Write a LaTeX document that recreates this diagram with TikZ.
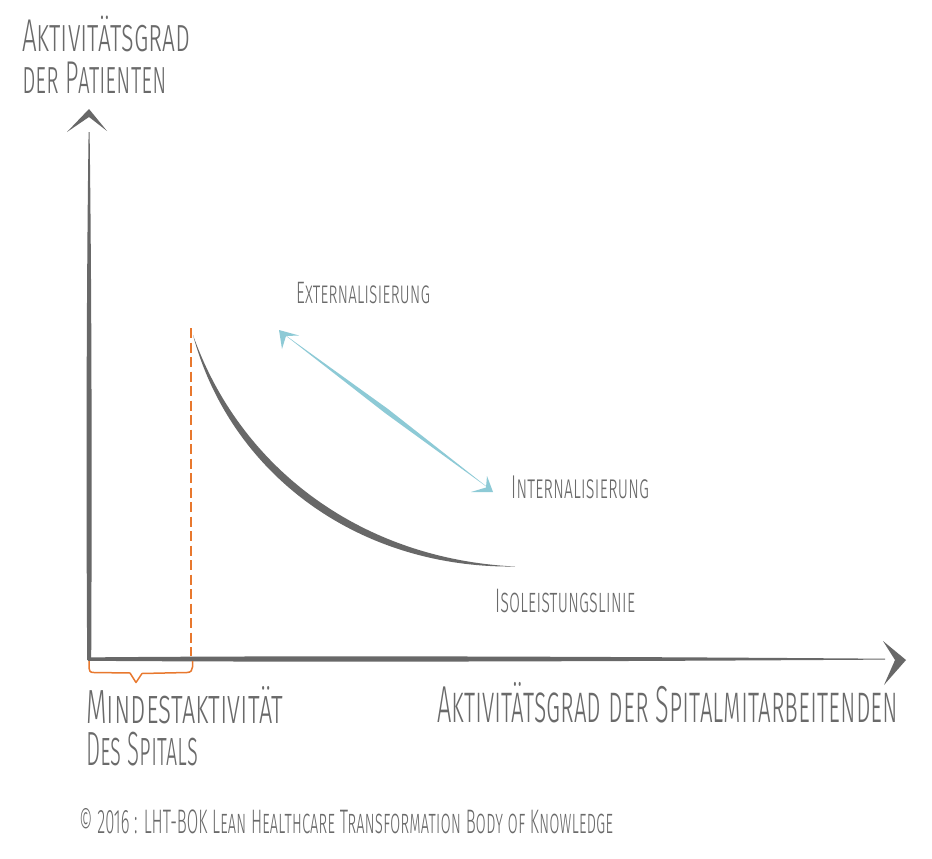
\documentclass[tikz,border=0pt]{standalone}
\usepackage{fontspec}
\usepackage{graphicx}
\newfontfamily\handfont{Fira Sans}[UprightFont=* Light, Letters=SmallCaps]
\definecolor{txtgray}{HTML}{6A6A6A}
\definecolor{axgray}{HTML}{686868}
\definecolor{orangeC}{HTML}{E8782E}
\definecolor{blueC}{HTML}{8DCAD6}
\newcommand{\fitw}[3]{\resizebox{#1pt}{\height}{\fontsize{#2}{#2}\selectfont #3}}
\tikzset{
  lbl/.style={inner sep=0pt, anchor=base west, text=txtgray, font=\handfont},
  axisfill/.style={fill=axgray, draw=none},
}
\begin{document}
\begin{tikzpicture}[x=1pt,y=-1pt]
\useasboundingbox[fill=white] (0,0) rectangle (932,859);

% y axis (tapered)
\fill[axisfill] (88.6,132) .. controls (86.3,300) and (86.1,500) .. (87.2,660)
   -- (91.2,660) .. controls (92,500) and (91.8,300) .. (89.6,132) -- cycle;
\fill[axisfill] (67,132) -- (89,109) -- (107,131) -- (89,117) -- cycle;

% x axis (tapered)
\fill[axisfill] (88,657.4) .. controls (300,655.4) and (600,656.5) .. (885,658.7)
   -- (885,659.6) .. controls (600,661.5) and (300,662.4) .. (88,660.8) -- cycle;
\fill[axisfill] (883,641) -- (906,660) -- (884,685) -- (895,660) -- cycle;

% orange dashed line and bracket
\draw[orangeC, line width=1.8pt, dash pattern=on 10pt off 4.5pt] (191,328) -- (191,656);
\draw[orangeC, line width=1.5pt, line join=round]
  (89,661) -- (89,668) .. controls (89,671) and (90,672.5) .. (94,672.5)
  -- (130,673) -- (136,682.5) -- (142,673.5) -- (187,672.5)
  .. controls (191,672.5) and (192.5,670) .. (192.5,667) -- (192.5,661);

% isoleistungslinie curve (tapered)
\fill[axgray] (193,335) .. controls (240,468) and (361,559) .. (515,566.5)
   .. controls (357,568.5) and (230,473) .. (193,335) -- cycle;

% blue double arrow
\fill[blueC] (281,332) -- (385,413) -- (491,490) -- (388,409) -- cycle;
\fill[blueC] (279,330) -- (299,335.5) -- (286,336) -- (282,349) -- cycle;
\fill[blueC] (493,492) -- (471,492) -- (486,487.5) -- (487,476) -- cycle;

% labels
\node[lbl] (ya1) at (22,52) {\fitw{168}{46}{Aktivitätsgrad}};
\node[lbl] (ya2) at (22,93) {\fitw{145}{46}{der Patienten}};
\node[lbl] (ext) at (296,303) {\fitw{134}{31}{Externalisierung}};
\node[lbl] (int) at (511,498) {\fitw{138}{33}{Internalisierung}};
\node[lbl] (iso) at (495,612) {\fitw{140}{34}{Isoleistungslinie}};
\node[lbl] (xa) at (437,722) {\fitw{461}{52}{Aktivitätsgrad der Spitalmitarbeitenden}};
\node[lbl] (mind1) at (86,723) {\fitw{197}{48}{Mindestaktivität}};
\node[lbl] (mind2) at (86,765) {\fitw{112}{48}{Des Spitals}};
\node[lbl] (foot) at (79,833) {\fitw{534}{34}{© 2016 : LHT-BOK Lean Healthcare Transformation Body of Knowledge}};
\end{tikzpicture}
\end{document}
